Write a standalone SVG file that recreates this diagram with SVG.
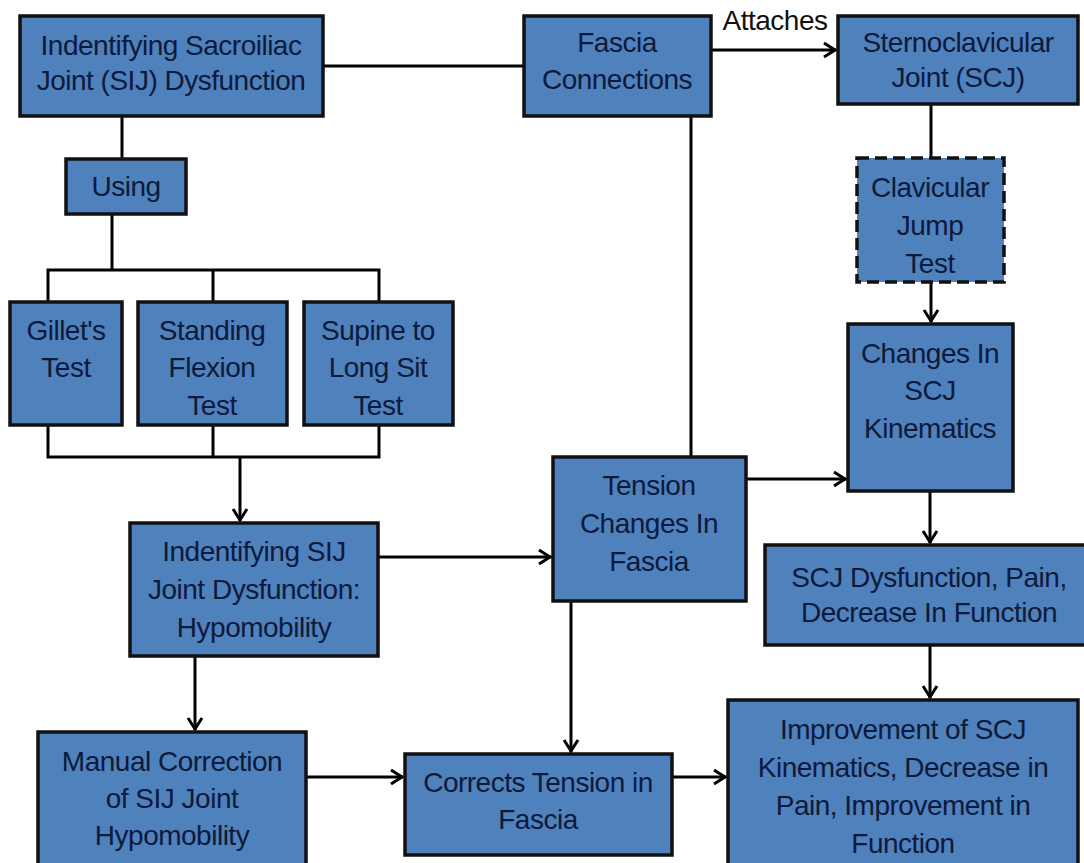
<svg xmlns="http://www.w3.org/2000/svg" width="1084" height="863" viewBox="0 0 1084 863">
<style>
.box{fill:#4f81bd;stroke:#111;stroke-width:3.5}
.dash{stroke-dasharray:12 6}
.t{font-family:"Liberation Sans",Arial,sans-serif;font-size:28px;letter-spacing:-0.5px;fill:#0d1a3a;text-anchor:middle}
.lbl{font-family:"Liberation Sans",Arial,sans-serif;font-size:28px;letter-spacing:-0.5px;fill:#111;text-anchor:middle}
.c{fill:none;stroke:#000;stroke-width:3}
.a{marker-end:url(#arr)}
</style>
<defs>
<marker id="arr" viewBox="-15 -10 17 20" refX="0" refY="0" markerWidth="17" markerHeight="20" markerUnits="userSpaceOnUse" orient="auto">
<path d="M-12,-7 L-1,0 L-12,7" fill="none" stroke="#000" stroke-width="3"/>
</marker>
</defs>
<rect width="1084" height="863" fill="#fff"/>
<g id="connectors">
<line class="c" x1="323" y1="66" x2="524" y2="66"/>
<line class="c a" x1="711" y1="50" x2="836" y2="50"/>
<text class="lbl" x="775" y="30">Attaches</text>
<line class="c" x1="122" y1="116" x2="122" y2="159"/>
<line class="c" x1="112" y1="214" x2="112" y2="270"/>
<polyline class="c" points="48,302 48,270 379,270 379,302"/>
<line class="c" x1="213" y1="270" x2="213" y2="302"/>
<polyline class="c" points="48,425 48,457 379,457 379,425"/>
<line class="c" x1="213" y1="425" x2="213" y2="457"/>
<line class="c a" x1="240" y1="457" x2="240" y2="521"/>
<line class="c a" x1="378" y1="557" x2="551" y2="557"/>
<line class="c a" x1="195" y1="656" x2="195" y2="730"/>
<line class="c a" x1="306" y1="777" x2="403" y2="777"/>
<line class="c a" x1="672" y1="777" x2="726" y2="777"/>
<line class="c a" x1="571" y1="601" x2="571" y2="752"/>
<line class="c" x1="691" y1="116" x2="691" y2="457"/>
<line class="c a" x1="746" y1="479" x2="846" y2="479"/>
<line class="c" x1="931" y1="104" x2="931" y2="158"/>
<line class="c a" x1="931" y1="282" x2="931" y2="322"/>
<line class="c a" x1="930" y1="491" x2="930" y2="543"/>
<line class="c a" x1="930" y1="645" x2="930" y2="698"/>
</g>
<g id="n-sij">
<rect class="box" x="20" y="16" width="303" height="100"/>
<text class="t" x="171" y="55">Indentifying Sacroiliac</text>
<text class="t" x="171" y="90">Joint (SIJ) Dysfunction</text>
</g>
<g id="n-fascia">
<rect class="box" x="524" y="16" width="187" height="100"/>
<text class="t" x="617" y="52">Fascia</text>
<text class="t" x="617" y="89">Connections</text>
</g>
<g id="n-scj">
<rect class="box" x="838" y="16" width="240" height="88"/>
<text class="t" x="958" y="52">Sternoclavicular</text>
<text class="t" x="958" y="87">Joint (SCJ)</text>
</g>
<g id="n-using">
<rect class="box" x="66" y="159" width="120" height="55"/>
<text class="t" x="126" y="196">Using</text>
</g>
<g id="n-gillet">
<rect class="box" x="10" y="302" width="112" height="123"/>
<text class="t" x="66" y="340">Gillet's</text>
<text class="t" x="66" y="377">Test</text>
</g>
<g id="n-standing">
<rect class="box" x="138" y="302" width="149" height="123"/>
<text class="t" x="212" y="340">Standing</text>
<text class="t" x="212" y="377">Flexion</text>
<text class="t" x="212" y="415">Test</text>
</g>
<g id="n-supine">
<rect class="box" x="304" y="302" width="149" height="123"/>
<text class="t" x="378" y="340">Supine to</text>
<text class="t" x="378" y="377">Long Sit</text>
<text class="t" x="378" y="415">Test</text>
</g>
<g id="n-clavicular">
<rect class="box dash" x="857" y="158" width="147" height="124"/>
<text class="t" x="930" y="197">Clavicular</text>
<text class="t" x="930" y="235">Jump</text>
<text class="t" x="930" y="273">Test</text>
</g>
<g id="n-changes">
<rect class="box" x="848" y="324" width="165" height="167"/>
<text class="t" x="930" y="363">Changes In</text>
<text class="t" x="930" y="400">SCJ</text>
<text class="t" x="930" y="438">Kinematics</text>
</g>
<g id="n-tension">
<rect class="box" x="553" y="457" width="193" height="144"/>
<text class="t" x="649" y="495">Tension</text>
<text class="t" x="649" y="533">Changes In</text>
<text class="t" x="649" y="571">Fascia</text>
</g>
<g id="n-hypo">
<rect class="box" x="130" y="523" width="248" height="133"/>
<text class="t" x="254" y="561">Indentifying SIJ</text>
<text class="t" x="254" y="599">Joint Dysfunction:</text>
<text class="t" x="254" y="637">Hypomobility</text>
</g>
<g id="n-scjdys">
<rect class="box" x="765" y="545" width="330" height="100"/>
<text class="t" x="929" y="587">SCJ Dysfunction, Pain,</text>
<text class="t" x="929" y="622">Decrease In Function</text>
</g>
<g id="n-manual">
<rect class="box" x="38" y="732" width="268" height="140"/>
<text class="t" x="172" y="771">Manual Correction</text>
<text class="t" x="172" y="808">of SIJ Joint</text>
<text class="t" x="172" y="845">Hypomobility</text>
</g>
<g id="n-corrects">
<rect class="box" x="405" y="754" width="267" height="101"/>
<text class="t" x="538" y="792">Corrects Tension in</text>
<text class="t" x="538" y="829">Fascia</text>
</g>
<g id="n-improve">
<rect class="box" x="728" y="700" width="350" height="175"/>
<text class="t" x="903" y="739">Improvement of SCJ</text>
<text class="t" x="903" y="777">Kinematics, Decrease in</text>
<text class="t" x="903" y="815">Pain, Improvement in</text>
<text class="t" x="903" y="853">Function</text>
</g>
</svg>
